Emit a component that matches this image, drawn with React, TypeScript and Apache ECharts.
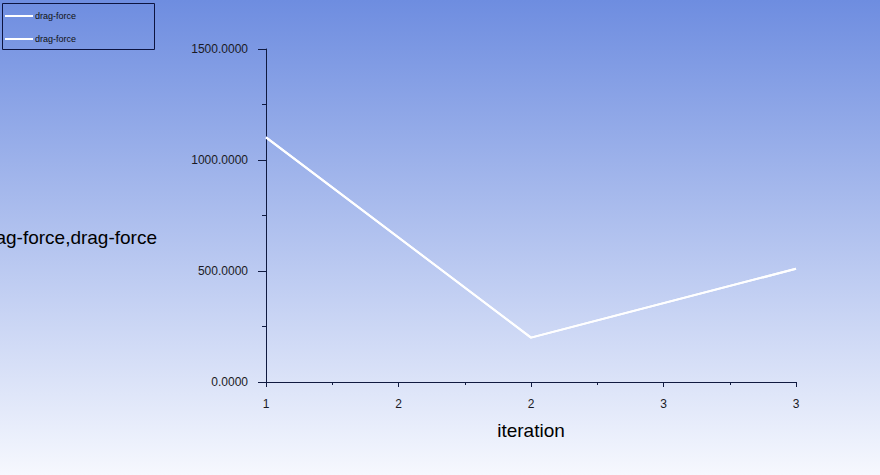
import React, { useEffect, useRef } from "react";
import * as echarts from "echarts";

const iterations = [1, 2, 3];
const dragForceA = [1102, 200, 510];
const dragForceB = [1102, 200, 510];
const legendNames = ["drag-force", "drag-force"];
const yAxisTitle = "drag-force,drag-force";
const xAxisTitle = "iteration";

export default function App() {
  const ref = useRef<HTMLDivElement>(null);
  useEffect(() => {
    if (!ref.current) return;
    const chart = echarts.init(ref.current, undefined, { renderer: "svg" });
    const axisColor = "#101a40";
    const labelColor = "#1a1a24";
    const toPairs = (ys: number[]) => iterations.map((x, i) => [x, ys[i]]);
    chart.setOption({
      animation: false,
      backgroundColor: new echarts.graphic.LinearGradient(0, 0, 0, 1, [
        { offset: 0, color: "#6e8de0" },
        { offset: 1, color: "#f6f8fe" },
      ]),
      grid: { left: 266, right: 84, top: 49, bottom: 93, outerBoundsMode: "none", containLabel: false },
      xAxis: {
        type: "value",
        min: 1,
        max: 3,
        interval: 0.5,
        name: xAxisTitle,
        nameLocation: "middle",
        nameGap: 39,
        nameTextStyle: { fontFamily: "Arial, Liberation Sans", fontSize: 19, color: "#000" },
        axisLine: { show: true, lineStyle: { color: axisColor, width: 1 } },
        axisTick: { show: true, length: 5, lineStyle: { color: axisColor } },
        minorTick: { show: true, splitNumber: 2, length: 3, lineStyle: { color: axisColor } },
        splitLine: { show: false },
        axisLabel: {
          formatter: (v: number) => String(Math.round(v)),
          fontFamily: "Arial, Liberation Sans",
          fontSize: 12,
          color: labelColor,
          margin: 16,
        },
      },
      yAxis: {
        type: "value",
        min: 0,
        max: 1500,
        interval: 500,
        axisLine: { show: true, lineStyle: { color: axisColor, width: 1 } },
        axisTick: { show: true, length: 8, lineStyle: { color: axisColor } },
        minorTick: { show: true, splitNumber: 2, length: 4, lineStyle: { color: axisColor } },
        splitLine: { show: false },
        axisLabel: {
          formatter: (v: number) => v.toFixed(4),
          fontFamily: "Arial, Liberation Sans",
          fontSize: 12,
          color: labelColor,
          margin: 18,
        },
      },
      series: [
        {
          name: legendNames[0],
          type: "line",
          data: toPairs(dragForceA),
          symbol: "none",
          lineStyle: { color: "#ffffff", width: 2 },
        },
        {
          name: legendNames[1],
          type: "line",
          data: toPairs(dragForceB),
          symbol: "none",
          lineStyle: { color: "#ffffff", width: 2 },
        },
      ],
      graphic: [
        {
          type: "text",
          x: 157,
          y: 237,
          style: {
            text: yAxisTitle,
            fill: "#000",
            fontFamily: "Arial, Liberation Sans",
            fontSize: 19,
            align: "right",
            verticalAlign: "middle",
          },
        },
        {
          type: "rect",
          shape: { x: 2.5, y: 3.5, width: 152, height: 46 },
          style: { fill: "none", stroke: "#0d1440", lineWidth: 1 },
        },
        ...legendNames.flatMap((n, i) => [
          {
            type: "line",
            shape: { x1: 5, y1: 16 + i * 23, x2: 33, y2: 16 + i * 23 },
            style: { stroke: "#ffffff", lineWidth: 2 },
          },
          {
            type: "text",
            x: 35,
            y: 16 + i * 23,
            style: {
              text: n,
              fill: "#111",
              fontFamily: "Arial, Liberation Sans",
              fontSize: 9,
              verticalAlign: "middle",
            },
          },
        ]),
      ],
    });
    return () => chart.dispose();
  }, []);
  return <div ref={ref} style={{ position: "fixed", left: 0, top: 0, width: 880, height: 475 }} />;
}
